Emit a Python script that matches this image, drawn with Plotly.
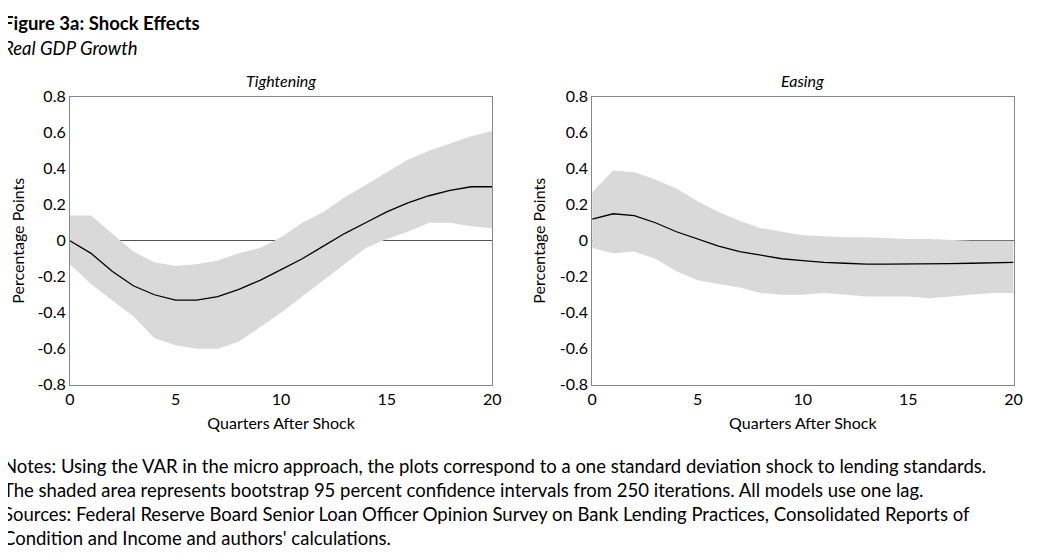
import plotly.graph_objects as go
from plotly.subplots import make_subplots

quarters = list(range(21))

tight_mid = [0, -0.07, -0.17, -0.25, -0.30, -0.33, -0.33, -0.31, -0.27, -0.22, -0.16,
             -0.10, -0.03, 0.04, 0.10, 0.16, 0.21, 0.25, 0.28, 0.30, 0.30]
tight_hi = [0.14, 0.14, 0.04, -0.06, -0.12, -0.14, -0.13, -0.11, -0.07, -0.04, 0.02,
            0.10, 0.16, 0.24, 0.31, 0.38, 0.45, 0.50, 0.54, 0.58, 0.61]
tight_lo = [-0.13, -0.24, -0.33, -0.42, -0.54, -0.58, -0.60, -0.60, -0.56, -0.48, -0.40,
            -0.31, -0.22, -0.13, -0.04, 0.01, 0.05, 0.10, 0.10, 0.08, 0.07]

ease_mid = [0.12, 0.15, 0.14, 0.10, 0.05, 0.01, -0.03, -0.06, -0.08, -0.10, -0.11,
            -0.12, -0.125, -0.13, -0.13, -0.13, -0.13, -0.127, -0.125, -0.122, -0.12]
ease_hi = [0.27, 0.39, 0.38, 0.34, 0.29, 0.22, 0.16, 0.11, 0.07, 0.05, 0.03,
           0.025, 0.02, 0.02, 0.015, 0.01, 0.01, 0.005, 0.0, 0.0, 0.0]
ease_lo = [-0.04, -0.07, -0.06, -0.10, -0.17, -0.22, -0.24, -0.26, -0.29, -0.30, -0.30,
           -0.29, -0.30, -0.31, -0.31, -0.31, -0.32, -0.31, -0.30, -0.29, -0.29]

y_ticks = [-0.8, -0.6, -0.4, -0.2, 0, 0.2, 0.4, 0.6, 0.8]
y_labels = ['-0.8', '-0.6', '-0.4', '-0.2', '0', '0.2', '0.4', '0.6', '0.8']

panels = [('Tightening', tight_mid, tight_hi, tight_lo),
          ('Easing', ease_mid, ease_hi, ease_lo)]

W, H = 1044, 555
font = 'Lato'


# map reference pixel position to paper fraction (compensates page offset/scale)
def fx(p):
    return (p - 14) / 0.988 / W


def fy(p):
    return 1 - (p - 17) / 0.969 / H


fig = make_subplots(rows=1, cols=2)

for i, (name, mid, hi, lo) in enumerate(panels, start=1):
    fig.add_trace(go.Scatter(x=quarters, y=hi, mode='lines', line=dict(width=0),
                             hoverinfo='skip', showlegend=False), row=1, col=i)
    fig.add_trace(go.Scatter(x=quarters, y=lo, mode='lines', line=dict(width=0),
                             fill='tonexty', fillcolor='#d9d9d9',
                             showlegend=False), row=1, col=i)
    fig.add_trace(go.Scatter(x=quarters, y=mid, mode='lines',
                             line=dict(color='black', width=1.3),
                             showlegend=False), row=1, col=i)

axis_common = dict(showgrid=False, showline=True, linecolor='#888888', linewidth=1,
                   mirror=True, ticks='', tickfont=dict(size=16, color='black'))
fig.update_xaxes(range=[0, 20], tickvals=[0, 5, 10, 15, 20],
                 title=dict(text='Quarters After Shock', font=dict(size=16, color='black'),
                            standoff=10),
                 zeroline=False, **axis_common)
fig.update_yaxes(range=[-0.8, 0.8], tickvals=y_ticks, ticktext=y_labels,
                 title=dict(text='Percentage Points', font=dict(size=16, color='black'),
                            standoff=10),
                 zeroline=True, zerolinecolor='#555555', zerolinewidth=1, **axis_common)

fig.update_layout(
    xaxis=dict(domain=[fx(71), fx(494)]),
    xaxis2=dict(domain=[fx(594), fx(1016)]),
    yaxis=dict(domain=[fy(385), fy(96)]),
    yaxis2=dict(domain=[fy(385), fy(96)]),
)

fig.add_annotation(x=fx(2), y=fy(22), xref='paper', yref='paper',
                   text='<b>Figure 3a: Shock Effects</b>', showarrow=False,
                   xanchor='left', yanchor='middle',
                   font=dict(size=18.5, color='black', family=font))
fig.add_annotation(x=fx(2), y=fy(47), xref='paper', yref='paper',
                   text='<i>Real GDP Growth</i>', showarrow=False,
                   xanchor='left', yanchor='middle',
                   font=dict(size=18.5, color='black', family=font))
for name, cx in [('Tightening', (71 + 494) / 2), ('Easing', (594 + 1016) / 2)]:
    fig.add_annotation(x=fx(cx), y=fy(80), xref='paper', yref='paper', text=f'<i>{name}</i>',
                       showarrow=False, xanchor='center', yanchor='middle',
                       font=dict(size=16, color='black', family=font))

notes = ('Notes: Using the VAR in the micro approach, the plots correspond to a one standard deviation shock to lending standards.<br>'
         'The shaded area represents bootstrap 95 percent confidence intervals from 250 iterations. All models use one lag.<br>'
         'Sources: Federal Reserve Board Senior Loan Officer Opinion Survey on Bank Lending Practices, Consolidated Reports of<br>'
         'Condition and Income and authors\' calculations.')
fig.add_annotation(x=fx(2), y=fy(453), xref='paper', yref='paper', text=notes,
                   showarrow=False, xanchor='left', yanchor='top', align='left',
                   font=dict(size=18.5, color='black', family=font))

fig.update_layout(width=W, height=H, margin=dict(l=0, r=0, t=0, b=0),
                  paper_bgcolor='white', plot_bgcolor='white',
                  font=dict(family=font, color='black'))

fig.write_html('out.html')
